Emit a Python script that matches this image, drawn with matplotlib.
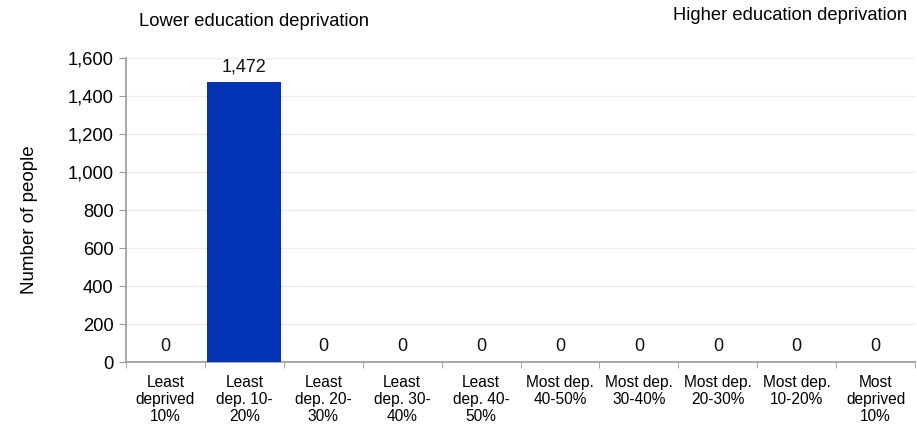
import matplotlib.pyplot as plt
from matplotlib.ticker import FuncFormatter, FixedLocator

plt.rcParams['font.family'] = ['Liberation Sans', 'DejaVu Sans']

categories = [
    "Least\ndeprived\n10%", "Least\ndep. 10-\n20%", "Least\ndep. 20-\n30%",
    "Least\ndep. 30-\n40%", "Least\ndep. 40-\n50%", "Most dep.\n40-50%",
    "Most dep.\n30-40%", "Most dep.\n20-30%", "Most dep.\n10-20%",
    "Most\ndeprived\n10%",
]
people = [0, 1472, 0, 0, 0, 0, 0, 0, 0, 0]
yticks = [0, 200, 400, 600, 800, 1000, 1200, 1400, 1600]

fig = plt.figure(figsize=(9.17, 4.30), dpi=100)
ax = fig.add_axes([0.1374, 0.1581, 0.8606, 0.7070])

x = range(len(categories))
ax.bar(x, people, width=0.94, color="#0233B4", zorder=3)
for xi, v in zip(x, people):
    ax.annotate(f"{v:,}", (xi, v), xytext=(0, 7), textcoords="offset pixels",
                ha="center", va="bottom", fontsize=13, color="#111111")

ax.set_xlim(-0.5, len(categories) - 0.5)
ax.set_ylim(0, 1600)
ax.set_yticks(yticks)
ax.yaxis.set_major_formatter(FuncFormatter(lambda v, p: f"{int(v):,}"))
ax.grid(axis="y", color="#ececec", linewidth=1, zorder=0)

ax.set_xticks(list(x))
ax.set_xticklabels(categories, fontsize=11.2, linespacing=1.2)
ax.tick_params(axis="x", length=0, pad=9)
ax.xaxis.set_minor_locator(FixedLocator([i - 0.5 for i in range(len(categories) + 1)]))
ax.tick_params(axis="x", which="minor", length=4, color="#999999")
ax.tick_params(axis="y", length=5, color="#999999", labelsize=13.2, pad=4)

for s in ["top", "right"]:
    ax.spines[s].set_visible(False)
for s in ["left", "bottom"]:
    ax.spines[s].set_color("#999999")
    ax.spines[s].set_linewidth(1.2)

fig.text(29 / 917, 1 - 220 / 430, "Number of people", rotation=90,
         ha="center", va="center", fontsize=13.5)

fig.text(254 / 917, 1 - 21 / 430, "Lower education deprivation", ha="center", va="center", fontsize=13.2)
fig.text(907 / 917, 1 - 16 / 430, "Higher education deprivation", ha="right", va="center", fontsize=13.2)

fig.savefig("out.png", dpi=100)
plt.close(fig)
